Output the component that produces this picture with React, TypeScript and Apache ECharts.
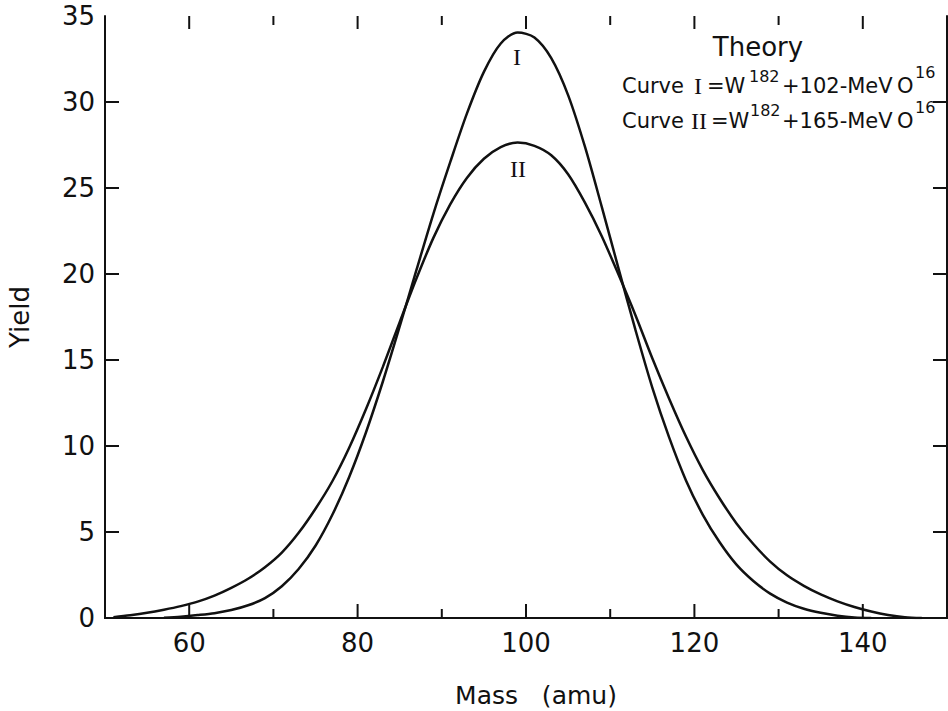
import React, { useEffect, useRef } from "react";
import * as echarts from "echarts";

// Mass numbers (amu) sampled along the curves
const mass = [51, 53, 55, 57, 59, 61, 63, 65, 67, 69, 71, 73, 75, 77, 79, 81, 83, 85, 87, 89, 91, 93, 95, 97, 99, 101, 103, 105, 107, 109, 111, 113, 115, 117, 119, 121, 123, 125, 127, 129, 131, 133, 135, 137, 139, 141, 143, 145, 147];
// Curve I : W182 + 102-MeV O16
const curveI = [null, null, null, 0.02, 0.08, 0.17, 0.28, 0.46, 0.74, 1.16, 1.85, 2.85, 4.2, 6.0, 8.2, 10.8, 13.75, 16.95, 20.25, 23.5, 26.5, 29.35, 31.75, 33.4, 34.04, 33.75, 32.55, 30.4, 27.4, 23.9, 20.3, 16.75, 13.4, 10.5, 8.0, 6.0, 4.4, 3.1, 2.15, 1.42, 0.9, 0.54, 0.3, 0.13, 0.03, 0, null, null, null];
// Curve II : W182 + 165-MeV O16
const curveII = [0.05, 0.16, 0.3, 0.48, 0.69, 0.95, 1.3, 1.75, 2.28, 2.95, 3.8, 4.95, 6.35, 7.95, 9.9, 12.15, 14.6, 17.2, 19.75, 22.1, 24.05, 25.6, 26.7, 27.38, 27.64, 27.45, 26.9, 25.8, 24.15, 22.2, 19.95, 17.6, 15.1, 12.75, 10.55, 8.6, 6.95, 5.5, 4.3, 3.28, 2.48, 1.87, 1.37, 0.97, 0.64, 0.38, 0.18, 0.05, 0];

const xMajorTicks = [60, 80, 100, 120, 140];
const xMinorTicks = [70, 90, 110, 130];
const yTicks = [5, 10, 15, 20, 25, 30];

const SANS = "DejaVu Sans";
const SERIF = "Liberation Serif";
const INK = "#111";

function txt(text: string, x: number, y: number, size: number, family = SANS, align = "left") {
  return {
    type: "text",
    x,
    y,
    silent: true,
    style: {
      text,
      fill: INK,
      fontSize: size,
      fontFamily: family,
      textAlign: align,
      textVerticalAlign: "middle",
    },
  };
}

function seg(x1: number, y1: number, x2: number, y2: number) {
  return {
    type: "line",
    silent: true,
    shape: { x1, y1, x2, y2 },
    style: { stroke: INK, lineWidth: 2 },
  };
}

export default function App() {
  const ref = useRef<HTMLDivElement>(null);
  useEffect(() => {
    if (!ref.current) return;
    const chart = echarts.init(ref.current, undefined, { renderer: "svg" });
    const axisLine = { show: true, lineStyle: { color: INK, width: 2 } };
    const option = {
      animation: false,
      backgroundColor: "#fff",
      grid: { left: 105, right: 1, top: 16, bottom: 93, outerBoundsMode: "none", containLabel: false },
      xAxis: [
        {
          type: "value",
          min: 50,
          max: 150,
          position: "bottom",
          splitLine: { show: false },
          axisLine,
          axisTick: { show: false },
          axisLabel: { show: true, customValues: xMajorTicks, fontFamily: SANS, fontSize: 26, color: INK, margin: 12 },
        },
        {
          type: "value",
          min: 50,
          max: 150,
          position: "top",
          splitLine: { show: false },
          axisLine,
          axisTick: { show: false },
          axisLabel: { show: false },
        },
      ],
      yAxis: [
        {
          type: "value",
          position: "left",
          min: 0,
          max: 35,
          interval: 5,
          splitLine: { show: false },
          axisLine,
          axisTick: { show: false },
          axisLabel: { fontFamily: SANS, fontSize: 26, color: INK, margin: 10 },
          name: "Yield",
          nameLocation: "middle",
          nameGap: 72,
          nameTextStyle: { fontFamily: SANS, fontSize: 26, color: INK },
        },
        {
          type: "value",
          position: "right",
          min: 0,
          max: 35,
          interval: 5,
          splitLine: { show: false },
          axisLine,
          axisTick: { show: false },
          axisLabel: { show: false },
        },
      ],
      series: [
        {
          name: "Curve I",
          type: "line",
          xAxisIndex: 0,
          yAxisIndex: 0,
          data: mass.map((m, i) => [m, curveI[i]]),
          smooth: 0.3,
          showSymbol: false,
          symbol: "none",
          lineStyle: { color: INK, width: 2.5 },
        },
        {
          name: "Curve II",
          type: "line",
          xAxisIndex: 0,
          yAxisIndex: 0,
          data: mass.map((m, i) => [m, curveII[i]]),
          smooth: 0.3,
          showSymbol: false,
          symbol: "none",
          lineStyle: { color: INK, width: 2.5 },
        },
      ],
    };
    chart.setOption(option as any);

    const px = (v: number) => chart.convertToPixel({ xAxisIndex: 0 }, v) as number;
    const py = (v: number) => chart.convertToPixel({ yAxisIndex: 0 }, v) as number;
    const yB = py(0);
    const yT = py(35);
    const xL = px(50);
    const xR = px(150);
    const ticks: any[] = [];
    xMajorTicks.forEach((v) => {
      const x = px(v);
      ticks.push(seg(x, yB, x, yB - 14));
      ticks.push(seg(x, yT, x, yT + 13));
    });
    xMinorTicks.forEach((v) => {
      const x = px(v);
      ticks.push(seg(x, yB, x, yB - 9));
      ticks.push(seg(x, yT, x, yT + 9));
    });
    yTicks.forEach((v) => {
      const y = py(v);
      ticks.push(seg(xL, y, xL + 14, y));
      ticks.push(seg(xR, y, xR - 14, y));
    });

    chart.setOption({
      graphic: [
        ...ticks,
        txt("Mass   (amu)", 536, 695, 25, SANS, "center"),
        txt("Theory", 758, 47, 26, SANS, "center"),
        // line 1
        txt("Curve", 622, 86, 21),
        txt("I", 698, 86, 24, SERIF, "center"),
        txt("=W", 707, 86, 21),
        txt("182", 749, 76, 16),
        txt("+102-MeV", 782, 86, 21),
        txt("O", 897, 86, 21),
        txt("16", 915, 72, 16),
        // line 2
        txt("Curve", 622, 121, 21),
        txt("II", 699, 121, 24, SERIF, "center"),
        txt("=W", 711, 121, 21),
        txt("182", 750, 110, 16),
        txt("+165-MeV", 782, 121, 21),
        txt("O", 897, 121, 21),
        txt("16", 915, 107, 16),
        // curve labels
        txt("I", 517, 57, 24, SERIF, "center"),
        txt("II", 518, 169, 24, SERIF, "center"),
      ],
    } as any);
    return () => chart.dispose();
  }, []);
  return <div ref={ref} style={{ position: "absolute", left: 0, top: 0, width: 948, height: 711 }} />;
}
